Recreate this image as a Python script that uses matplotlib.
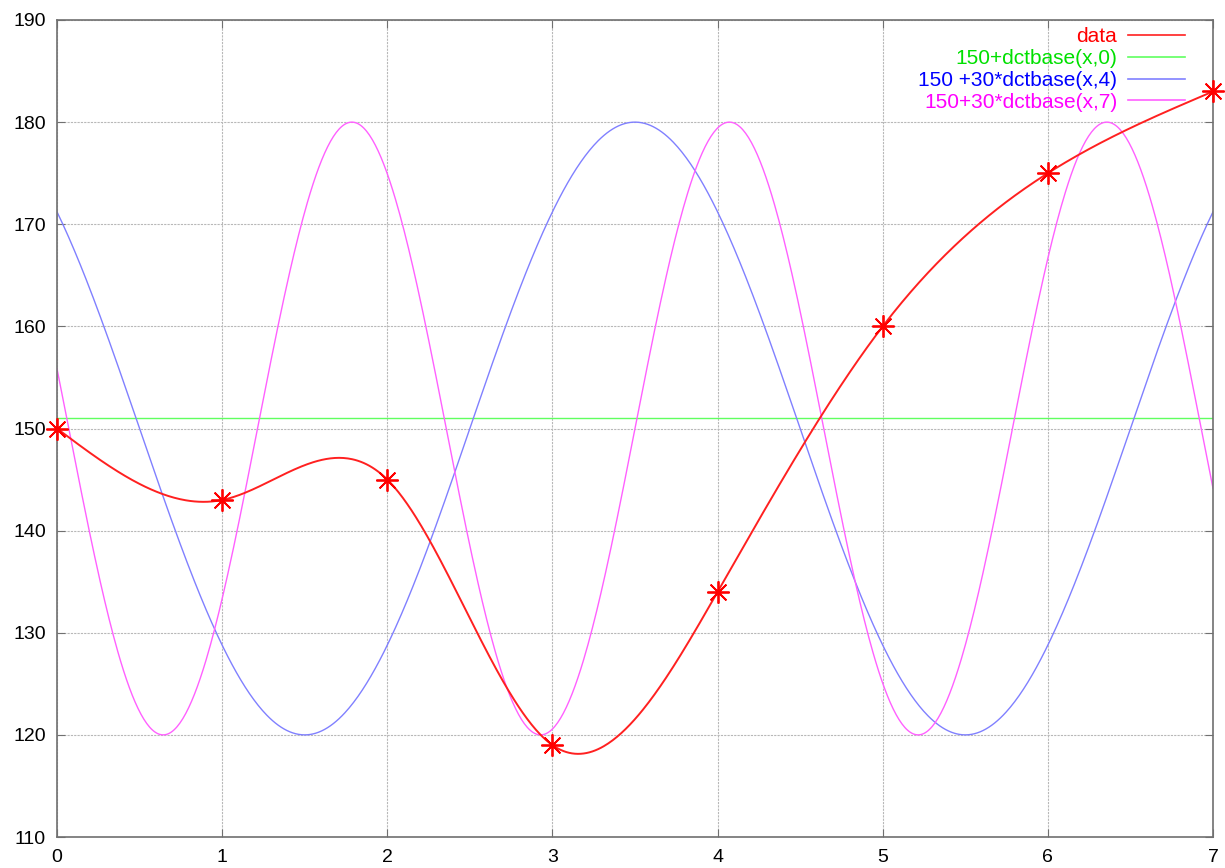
import numpy as np
import matplotlib
matplotlib.use("Agg")
import matplotlib.pyplot as plt
from matplotlib.lines import Line2D

# ---- data ----
sample_x = [0, 1, 2, 3, 4, 5, 6, 7]
sample_y = [150, 143, 145, 119, 134, 160, 175, 183]
offset = 150
amp = 30
base_k0 = 0
base_k4 = 4
base_k7 = 7
labels = ["data", "150+dctbase(x,0)", "150 +30*dctbase(x,4)", "150+30*dctbase(x,7)"]
colors = ["#ff0000", "#00e000", "#0000ff", "#ff00ff"]
line_colors = ["#ff2020", "#60ff60", "#8080ff", "#ff60ff"]
xticks = [0, 1, 2, 3, 4, 5, 6, 7]
yticks = [110, 120, 130, 140, 150, 160, 170, 180, 190]

N = len(sample_y)

def dctbase(x, k):
    return np.cos(np.pi * k * (2 * x + 1) / (2 * N))

def natural_spline(xp, yp, xq):
    xp = np.asarray(xp, float); yp = np.asarray(yp, float)
    n = len(xp)
    h = np.diff(xp)
    A = np.zeros((n, n)); r = np.zeros(n)
    A[0, 0] = 1; A[-1, -1] = 1
    for i in range(1, n - 1):
        A[i, i - 1] = h[i - 1]
        A[i, i] = 2 * (h[i - 1] + h[i])
        A[i, i + 1] = h[i]
        r[i] = 6 * ((yp[i + 1] - yp[i]) / h[i] - (yp[i] - yp[i - 1]) / h[i - 1])
    M = np.linalg.solve(A, r)
    idx = np.clip(np.searchsorted(xp, xq) - 1, 0, n - 2)
    x0 = xp[idx]; x1 = xp[idx + 1]; hh = x1 - x0
    a = (x1 - xq) / hh; b = (xq - x0) / hh
    return (a * yp[idx] + b * yp[idx + 1]
            + ((a ** 3 - a) * M[idx] + (b ** 3 - b) * M[idx + 1]) * hh ** 2 / 6)

xs = np.linspace(0, 7, 800)

plt.rcParams['font.family'] = ['Liberation Sans', 'DejaVu Sans']
fig = plt.figure(figsize=(12.25, 8.68), dpi=100)
ax = fig.add_axes([57 / 1225, 1 - 837 / 868, (1213 - 57) / 1225, (837 - 20) / 868])

ax.plot(xs, natural_spline(sample_x, sample_y, xs), color=line_colors[0], lw=1.4, zorder=5)
ax.plot(sample_x, sample_y, linestyle='none', marker=(8, 2, 0), markersize=16,
        markeredgewidth=1.3, color=colors[0], clip_on=False, zorder=6)
ax.plot(xs, offset + dctbase(xs, base_k0) * np.ones_like(xs), color=line_colors[1], lw=1.0)
ax.plot(xs, offset + amp * dctbase(xs, base_k4), color=line_colors[2], lw=1.0)
ax.plot(xs, offset + amp * dctbase(xs, base_k7), color=line_colors[3], lw=1.0)

ax.set_xlim(0, 7)
ax.set_ylim(110, 190)
ax.set_xticks(xticks)
ax.set_yticks(yticks)
ax.grid(True, color="#b8b8b8", lw=0.8, linestyle=(0, (2, 1)))
ax.set_axisbelow(True)
for s in ax.spines.values():
    s.set_color("#707070")
    s.set_linewidth(1.2)
ax.tick_params(direction='in', length=6, top=True, right=True, color="#707070",
               labelsize=14, labelcolor='black')
ax.tick_params(axis='x', pad=9)
ax.tick_params(axis='y', pad=8)

handles = [Line2D([], [], color=c, lw=1.2) for c in line_colors]
leg = ax.legend(handles, labels, loc='upper right', markerfirst=False, frameon=False,
                fontsize=15, labelcolor=colors, handlelength=2.75, handletextpad=0.5,
                labelspacing=0.14, borderaxespad=0.0, borderpad=0.0,
                bbox_to_anchor=(1128 / 1156, 1 - 7 / 817))

fig.savefig("out.png", dpi=100)
